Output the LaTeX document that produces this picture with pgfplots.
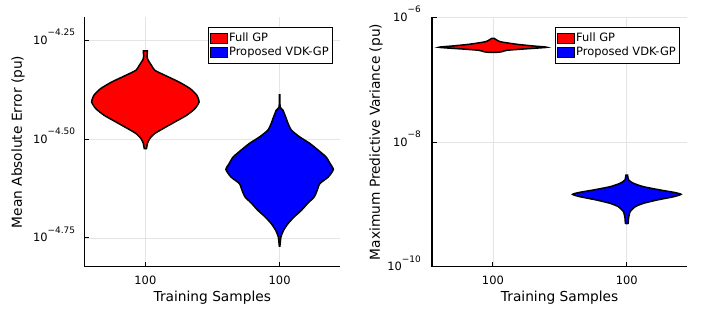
\documentclass[border=0pt]{standalone}
\usepackage{fontspec}
\setmainfont{DejaVu Sans}
\usepackage{pgfplots}
\pgfplotsset{compat=1.18}
\newcommand{\tlab}[1]{10\raisebox{8.5bp}{\fontsize{9}{9}\selectfont #1}}

\begin{document}
\begin{tikzpicture}
\useasboundingbox (0,0) rectangle (706bp,314bp);
\pgfplotsset{
  violinstyle/.style={draw=black, line width=1.5pt, smooth, tension=0.35},
  common/.style={
    scale only axis, width=256bp, height=249.4bp, anchor=south west,
    axis x line=bottom, axis y line=left,
    axis line style={line width=1.2pt, -},
    tick align=inside, major tick length=5bp,
    tick style={black, line width=1pt},
    grid=major, grid style={black!10, line width=0.6pt},
    xmin=0.545, xmax=2.452, xtick={1,2}, xticklabels={100,100},
    ticklabel style={font=\fontsize{11.5}{13}\selectfont},
    xticklabel style={inner sep=0pt, anchor=north, yshift=-9bp},
    label style={font=\fontsize{13.8}{15}\selectfont},
    xlabel={Training Samples},
    xlabel style={at={(axis description cs:0.5,-0.0975)}, anchor=north, inner sep=0pt},
    legend style={at={(0.971,0.961)}, anchor=north east, draw=black, line width=1pt,
      inner xsep=2bp, inner ysep=5bp, row sep=3bp,
      font=\fontsize{11.5}{13}\selectfont,
      nodes={inner sep=0pt, inner xsep=1.6bp, text height=8.5bp, text depth=2.5bp}},
    legend cell align=left,
    legend image code/.code={\draw[##1, line width=0.7pt] (0bp,-5.3bp) rectangle (16.7bp,5.3bp);},
  },
}
% ---------------- left panel ----------------
\begin{axis}[common, at={(84.3bp,47.3bp)},
  ymin=-4.8226, ymax=-4.1919,
  ytick={-4.75,-4.5,-4.25},
  yticklabels={\tlab{−4.75},\tlab{−4.50},\tlab{−4.25}},
  yticklabel style={inner sep=0pt, anchor=base east, xshift=-9bp, yshift=-4bp},
  ylabel={Mean Absolute Error (pu)},
  ylabel style={at={(axis description cs:-0.259,0.5)}, anchor=center, inner sep=0pt}]
\addplot[violinstyle, fill=red] coordinates {
(1.015,-4.2770) (1.015,-4.2963) (1.045,-4.3132) (1.070,-4.3258) (1.145,-4.3385)
(1.250,-4.3554) (1.333,-4.3721) (1.383,-4.3890) (1.400,-4.4060) (1.370,-4.4226)
(1.308,-4.4396) (1.220,-4.4565) (1.133,-4.4731) (1.070,-4.4858) (1.033,-4.4984)
(1.015,-4.5110) (1.008,-4.5237)
(0.992,-4.5237) (0.985,-4.5110) (0.967,-4.4984) (0.930,-4.4858) (0.867,-4.4731)
(0.780,-4.4565) (0.692,-4.4396) (0.630,-4.4226) (0.600,-4.4060) (0.617,-4.3890)
(0.667,-4.3721) (0.750,-4.3554) (0.855,-4.3385) (0.930,-4.3258) (0.955,-4.3132)
(0.985,-4.2963) (0.985,-4.2770)} -- cycle;
\addlegendentry{Full GP}
\addplot[violinstyle, fill=blue] coordinates {
(2.002,-4.3883) (2.004,-4.4186) (2.025,-4.4270) (2.045,-4.4439) (2.063,-4.4606)
(2.088,-4.4775) (2.150,-4.4945) (2.226,-4.5111) (2.288,-4.5281) (2.346,-4.5450)
(2.376,-4.5617) (2.400,-4.5769) (2.363,-4.5956) (2.300,-4.6123) (2.280,-4.6292)
(2.258,-4.6461) (2.208,-4.6628) (2.163,-4.6798) (2.108,-4.6967) (2.063,-4.7134)
(2.030,-4.7303) (2.010,-4.7472) (2.002,-4.7707)
(1.998,-4.7707) (1.990,-4.7472) (1.970,-4.7303) (1.937,-4.7134) (1.892,-4.6967)
(1.837,-4.6798) (1.792,-4.6628) (1.742,-4.6461) (1.720,-4.6292) (1.700,-4.6123)
(1.637,-4.5956) (1.600,-4.5769) (1.624,-4.5617) (1.654,-4.5450) (1.712,-4.5281)
(1.774,-4.5111) (1.850,-4.4945) (1.912,-4.4775) (1.937,-4.4606) (1.955,-4.4439)
(1.975,-4.4270) (1.996,-4.4186) (1.998,-4.3883)} -- cycle;
\addlegendentry{Proposed VDK-GP}
\end{axis}
% ---------------- right panel ----------------
\begin{axis}[common, at={(432bp,47.3bp)}, width=255.3bp,
  ymin=-10, ymax=-6,
  ytick={-10,-8,-6},
  yticklabels={\tlab{−10},\tlab{−8},\tlab{−6}},
  yticklabel style={inner sep=0pt, anchor=base east, xshift=-11bp, yshift=-4bp},
  ylabel={Maximum Predictive Variance (pu)},
  ylabel style={at={(axis description cs:-0.219,0.5)}, anchor=center, inner sep=0pt}]
\addplot[violinstyle, fill=red] coordinates {
(1.008,-6.3368) (1.055,-6.3913) (1.179,-6.4330) (1.303,-6.4603) (1.403,-6.4811)
(1.229,-6.5084) (1.104,-6.5293) (1.067,-6.5517) (1.030,-6.5613)
(0.970,-6.5613) (0.933,-6.5517) (0.896,-6.5293) (0.771,-6.5084) (0.597,-6.4811)
(0.697,-6.4603) (0.821,-6.4330) (0.945,-6.3913) (0.992,-6.3368)} -- cycle;
\addlegendentry{Full GP}
\addplot[violinstyle, fill=blue] coordinates {
(2.006,-8.5293) (2.014,-8.6095) (2.050,-8.6624) (2.125,-8.7169) (2.250,-8.7699)
(2.350,-8.8067) (2.405,-8.8388) (2.350,-8.8773) (2.226,-8.9303) (2.125,-8.9832)
(2.063,-9.0377) (2.025,-9.1179) (2.013,-9.2237) (2.010,-9.3040)
(1.990,-9.3040) (1.987,-9.2237) (1.975,-9.1179) (1.937,-9.0377) (1.875,-8.9832)
(1.774,-8.9303) (1.650,-8.8773) (1.595,-8.8388) (1.650,-8.8067) (1.750,-8.7699)
(1.875,-8.7169) (1.950,-8.6624) (1.986,-8.6095) (1.994,-8.5293)} -- cycle;
\addlegendentry{Proposed VDK-GP}
\end{axis}
\end{tikzpicture}
\end{document}
